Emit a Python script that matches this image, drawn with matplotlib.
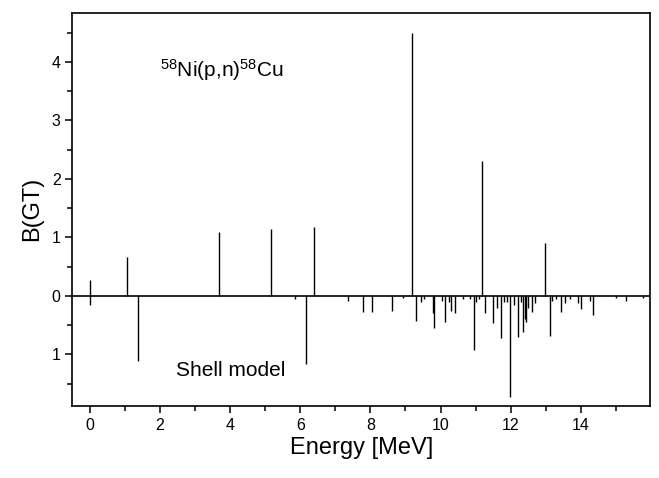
import matplotlib
matplotlib.use("Agg")
import matplotlib.pyplot as plt
from matplotlib.ticker import MultipleLocator, FuncFormatter

plt.rcParams['font.family'] = ['Liberation Sans', 'DejaVu Sans']
plt.rcParams['mathtext.fontset'] = 'custom'
plt.rcParams['mathtext.rm'] = 'Liberation Sans'
plt.rcParams['mathtext.default'] = 'regular'

# experimental (p,n) strengths, drawn upward
exp_energy = [0.0, 1.05, 3.68, 5.17, 6.38, 9.2, 11.18, 12.97]
exp_bgt = [0.28, 0.66, 1.09, 1.15, 1.18, 4.5, 2.3, 0.91]

# shell model strengths, drawn downward
sm_energy = [0.0, 1.36, 5.86, 6.16, 7.35, 7.8, 8.05, 8.62, 8.94, 9.29, 9.45,
             9.54, 9.78, 9.82, 10.03, 10.14, 10.23, 10.3, 10.4, 10.64, 10.83,
             10.96, 11.02, 11.09, 11.26, 11.5, 11.61, 11.72, 11.8, 11.89,
             11.98, 12.11, 12.22, 12.29, 12.35, 12.4, 12.45, 12.49, 12.61,
             12.69, 13.11, 13.18, 13.3, 13.45, 13.56, 13.69, 13.92, 14.02,
             14.26, 14.35, 15.02, 15.3, 15.77]
sm_bgt = [0.15, 1.12, 0.05, 1.17, 0.08, 0.27, 0.28, 0.25, 0.03, 0.43, 0.1,
          0.05, 0.3, 0.55, 0.08, 0.45, 0.1, 0.25, 0.3, 0.05, 0.05,
          0.93, 0.1, 0.05, 0.29, 0.46, 0.2, 0.72, 0.1, 0.1,
          1.73, 0.15, 0.7, 0.1, 0.62, 0.4, 0.45, 0.2, 0.27,
          0.12, 0.69, 0.08, 0.05, 0.28, 0.12, 0.05, 0.12, 0.23,
          0.08, 0.32, 0.03, 0.08, 0.03]

fig = plt.figure(figsize=(6.59, 4.78), dpi=100)
ax = fig.add_axes([0.110, 0.151, 0.876, 0.822])

ax.vlines(exp_energy, 0, exp_bgt, color='black', lw=1.0)
ax.vlines(sm_energy, 0, [-v for v in sm_bgt], color='black', lw=1.0)
ax.axhline(0, color='black', lw=1.2)

ax.set_xlim(-0.5, 15.97)
ax.set_ylim(-1.88, 4.84)

ax.xaxis.set_major_locator(MultipleLocator(2))
ax.xaxis.set_minor_locator(MultipleLocator(1))
ax.yaxis.set_major_locator(MultipleLocator(1))
ax.yaxis.set_minor_locator(MultipleLocator(0.5))
ax.yaxis.set_major_formatter(FuncFormatter(lambda v, p: '%d' % abs(round(v))))

ax.tick_params(which='both', direction='out', top=False, right=False,
               width=1.1, labelsize=11.5)
ax.tick_params(which='major', length=5)
ax.tick_params(which='minor', length=3.5)
for s in ax.spines.values():
    s.set_linewidth(1.2)

ax.set_xlabel('Energy [MeV]', fontsize=17, labelpad=3)
ax.set_ylabel('B(GT)', fontsize=17, labelpad=6)

ax.text(2.0, 3.87, r'$^{58}$Ni(p,n)$^{58}$Cu', fontsize=15, va='center')
ax.text(2.45, -1.28, 'Shell model', fontsize=15, va='center')

fig.savefig('out.png', dpi=100)
